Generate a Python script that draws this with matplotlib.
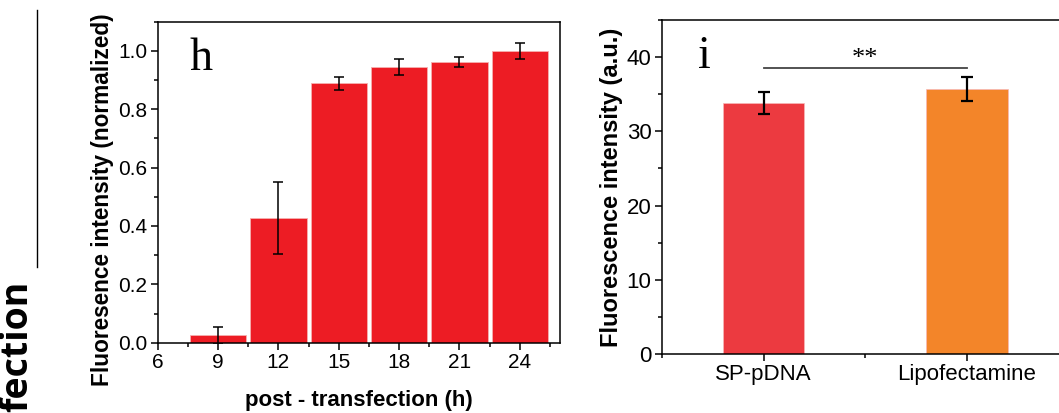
import matplotlib
matplotlib.use("Agg")
import matplotlib.pyplot as plt
from matplotlib.ticker import MultipleLocator

# ---- data ----
hours = [9, 12, 15, 18, 21, 24]
norm_intensity = [0.025, 0.426, 0.889, 0.945, 0.962, 1.0]
norm_err = [0.03, 0.123, 0.022, 0.028, 0.016, 0.027]
x_ticks_h = [6, 9, 12, 15, 18, 21, 24]

groups = ["SP-pDNA", "Lipofectamine"]
fl_intensity = [33.85, 35.7]
fl_err = [1.5, 1.65]
bar_colors_i = ["#EC3A40", "#F38529"]

plt.rcParams['font.family'] = ['Liberation Sans', 'DejaVu Sans']

W, H = 1059, 413
fig = plt.figure(figsize=(W / 100, H / 100), dpi=100)

# ---------- panel h ----------
axh = fig.add_axes([157.7 / W, 1 - 342.7 / H, (560 - 157.7) / W, (342.7 - 21.7) / H])
axh.bar(hours, norm_intensity, width=2.8, color="#ED1C24", edgecolor="#F6B0B0",
        linewidth=0.6, zorder=2)
axh.errorbar(hours, norm_intensity, yerr=norm_err, fmt="none", ecolor="black",
             elinewidth=1.1, capsize=3.5, capthick=1.1, zorder=3)
axh.set_xlim(6, 26)
axh.set_ylim(0, 1.1)
axh.set_xticks(x_ticks_h)
axh.xaxis.set_minor_locator(MultipleLocator(1.5))
axh.yaxis.set_minor_locator(MultipleLocator(0.1))
axh.set_yticks([0.0, 0.2, 0.4, 0.6, 0.8, 1.0])
axh.set_yticklabels(["0.0", "0.2", "0.4", "0.6", "0.8", "1.0"])
axh.tick_params(which="major", direction="out", length=5, width=1.1, labelsize=15, pad=2.5)
axh.tick_params(which="minor", direction="out", length=3, width=1.1)
axh.set_xlabel("post - transfection (h)", fontsize=16, fontweight="bold", labelpad=13)
axh.set_ylabel("Fluoresence intensity (normalized)", fontsize=16.3, fontweight="bold")
axh.yaxis.set_label_coords(-0.108, 0.445)
axh.text(0.08, 0.952, "h", transform=axh.transAxes, family="Liberation Serif",
         fontsize=33, va="top", ha="left")
for s in axh.spines.values():
    s.set_linewidth(1.1)

# ---------- panel i ----------
axi = fig.add_axes([662 / W, 1 - 354 / H, (1068.7 - 662) / W, (354 - 20) / H])
xpos = [1, 2]
axi.bar(xpos, fl_intensity, width=0.4, color=bar_colors_i, edgecolor="#F7B8B8",
        linewidth=0.5, zorder=2)
axi.errorbar(xpos, fl_intensity, yerr=fl_err, fmt="none", ecolor="black",
             elinewidth=1.6, capsize=4, capthick=1.6, zorder=3)
axi.set_xlim(0.5, 2.5)
axi.set_ylim(0, 45)
axi.set_xticks(xpos)
axi.set_xticklabels(groups)
axi.xaxis.set_minor_locator(MultipleLocator(0.5))
axi.yaxis.set_major_locator(MultipleLocator(10))
axi.yaxis.set_minor_locator(MultipleLocator(5))
axi.tick_params(which="major", direction="out", length=5, width=1.1, labelsize=16, pad=2.5)
axi.tick_params(which="minor", direction="out", length=3, width=1.1)
axi.set_ylabel("Fluorescence intensity (a.u.)", fontsize=17, fontweight="bold", labelpad=3)
axi.plot([1, 2], [38.6, 38.6], color="#444444", linewidth=1.3, zorder=3)
axi.text(1.5, 38.3, "**", ha="center", va="bottom", fontsize=19, family="Liberation Serif")
axi.text(0.088, 0.955, "i", transform=axi.transAxes, family="Liberation Serif",
         fontsize=33, va="top", ha="left")
for s in axi.spines.values():
    s.set_linewidth(1.1)

# ---------- left-edge fragment ----------
fig.add_artist(plt.Line2D([37 / W, 37 / W], [1 - 10 / H, 1 - 267 / H],
                          color="black", linewidth=1.0))
fig.text(17 / W, 1.5 / H, "fection", rotation=90, ha="center", va="bottom",
         fontsize=27, fontweight="bold", family="Open Sans")

fig.savefig("out.png", dpi=100)
